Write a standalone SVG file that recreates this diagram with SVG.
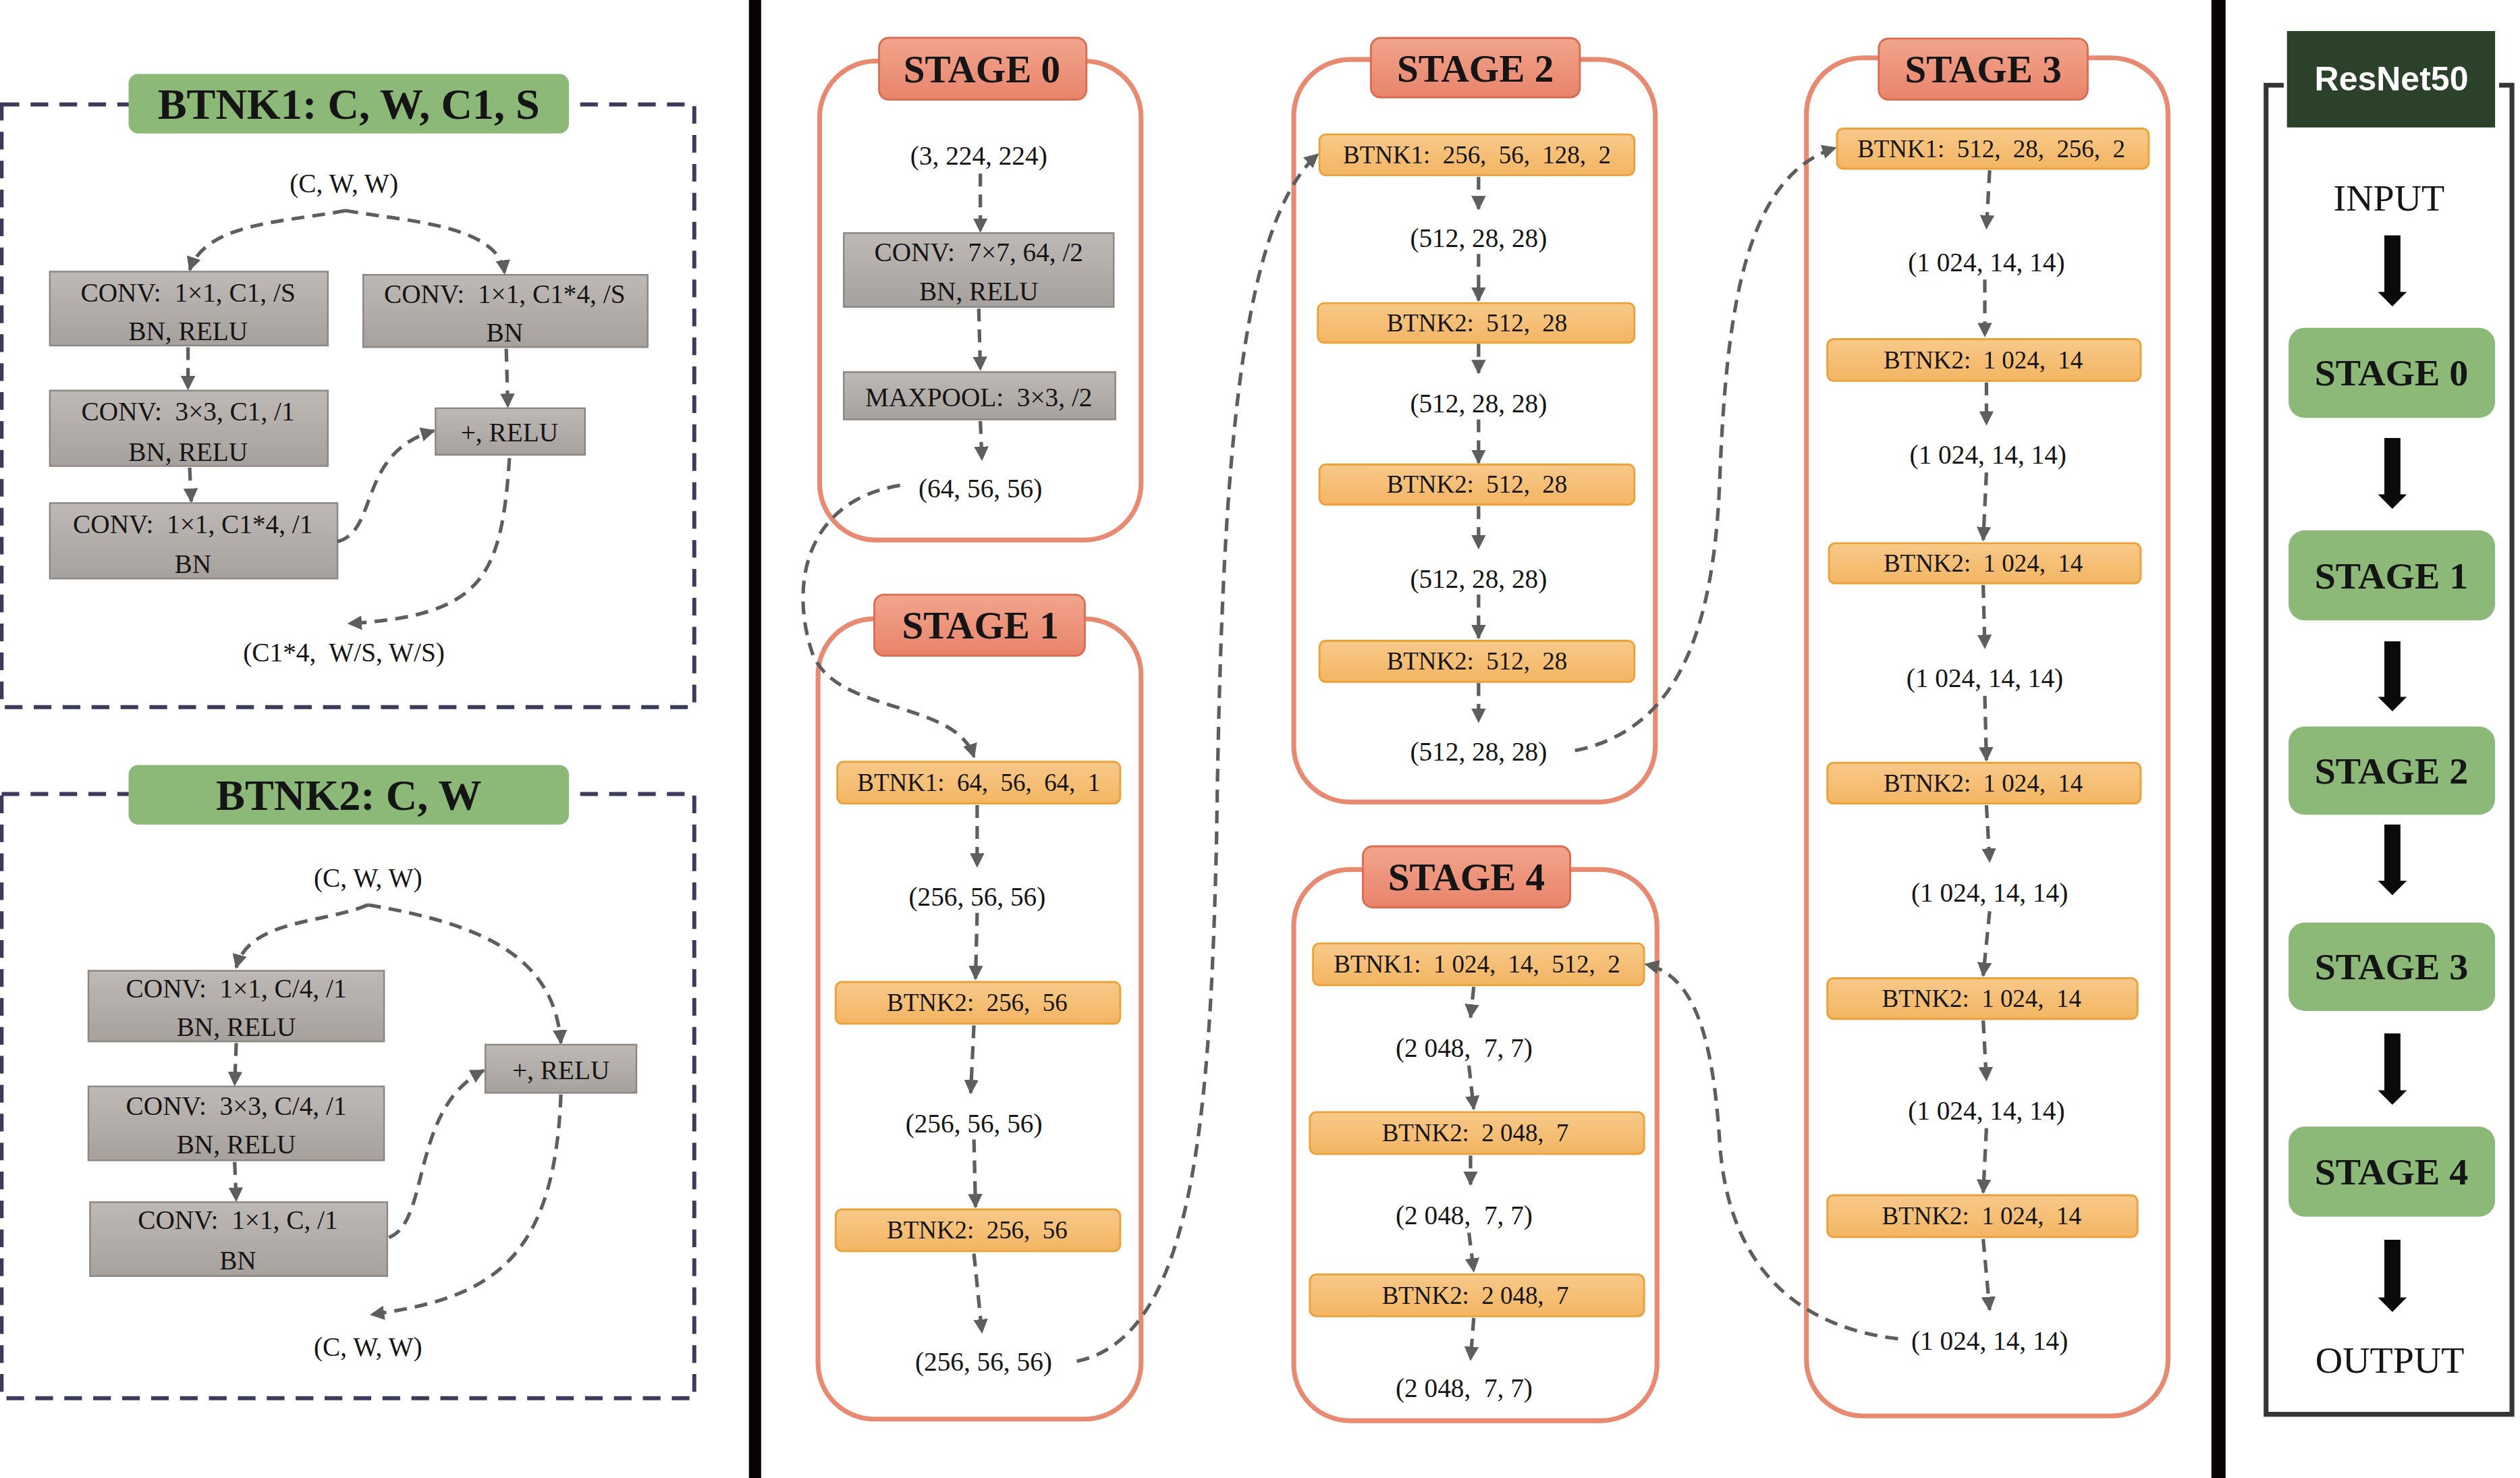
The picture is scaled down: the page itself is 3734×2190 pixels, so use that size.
<svg xmlns="http://www.w3.org/2000/svg" width="3734" height="2190" viewBox="0 0 3734 2190" xml:space="preserve">
<defs>
<linearGradient id="gGray" x1="0" y1="0" x2="0" y2="1"><stop offset="0" stop-color="#bfb9b5"/><stop offset="1" stop-color="#a7a19d"/></linearGradient>
<linearGradient id="gOrange" x1="0" y1="0" x2="0" y2="1"><stop offset="0" stop-color="#f8c98a"/><stop offset="1" stop-color="#f3b562"/></linearGradient>
<linearGradient id="gSalmon" x1="0" y1="0" x2="0" y2="1"><stop offset="0" stop-color="#f1a58c"/><stop offset="1" stop-color="#e9836b"/></linearGradient>
<marker id="ah" viewBox="0 0 10 10" refX="9" refY="5" markerWidth="9" markerHeight="9" markerUnits="userSpaceOnUse" orient="auto"><path d="M0,0 L10,5 L0,10 z" fill="#5e5e5e"/></marker>
</defs>
<style>
.t{font-family:"Liberation Serif","Times New Roman",serif;fill:#151515;text-anchor:middle;dominant-baseline:central;white-space:pre}
.b{font-weight:bold}
.f16{font-size:16.5px}
.fo{font-size:15.5px}
.f24{font-size:24px}
.f27{font-size:27px}
.f23{font-size:23.5px}
.sans{font-family:"Liberation Sans",Arial,sans-serif;font-weight:bold;font-size:21px;fill:#ffffff;text-anchor:middle;dominant-baseline:central}
.gray{fill:url(#gGray);stroke:#8c8682;stroke-width:1}
.orange{fill:url(#gOrange);stroke:#eba23a;stroke-width:1.2}
.stage{fill:none;stroke:#e88a72;stroke-width:3}
.stitle{fill:url(#gSalmon);stroke:#da6c52;stroke-width:1.2}
.frame{fill:none;stroke:#3c3b5c;stroke-width:2.5;stroke-dasharray:11 7}
.gtitle{fill:#8cb878}
.gstage{fill:#8cb878}
.conn path{fill:none;stroke:#5e5e5e;stroke-width:2.2;stroke-dasharray:8 5;marker-end:url(#ah)}
.blk{fill:#0a0a0a}
</style>
<rect x="0" y="0" width="3734" height="2190" fill="#ffffff"/>
<g transform="scale(2.38138)">

<!-- separators -->
<g id="separators">
<rect x="466" y="0" width="7.6" height="920" fill="#080404"/>
<rect x="1376" y="0" width="8.8" height="920" fill="#080404"/>
</g>

<!-- BTNK1 panel -->
<g id="btnk1-panel">
<rect class="frame" x="1" y="65" width="431" height="375"/>
<rect class="gtitle" x="80" y="46" width="274" height="37" rx="6"/>
<text class="t b f27" x="217" y="65">BTNK1: C, W, C1, S</text>
</g>
<g id="btnk1-in"><text class="t f16" x="214" y="114">(C, W, W)</text></g>
<g id="btnk1-conv1"><rect class="gray" x="31" y="169" width="173" height="46"/>
<text class="t f16" x="117" y="182">CONV:  1×1, C1, /S</text><text class="t f16" x="117" y="206">BN, RELU</text></g>
<g id="btnk1-short"><rect class="gray" x="226" y="171" width="177" height="45"/>
<text class="t f16" x="314" y="183">CONV:  1×1, C1*4, /S</text><text class="t f16" x="314" y="207">BN</text></g>
<g id="btnk1-conv2"><rect class="gray" x="31" y="243" width="173" height="47"/>
<text class="t f16" x="117" y="256">CONV:  3×3, C1, /1</text><text class="t f16" x="117" y="281">BN, RELU</text></g>
<g id="btnk1-conv3"><rect class="gray" x="31" y="313" width="179" height="47"/>
<text class="t f16" x="120" y="326">CONV:  1×1, C1*4, /1</text><text class="t f16" x="120" y="351">BN</text></g>
<g id="btnk1-add"><rect class="gray" x="271" y="254" width="93" height="29"/>
<text class="t f16" x="317" y="269">+, RELU</text></g>
<g id="btnk1-out"><text class="t f16" x="214" y="406">(C1*4,  W/S, W/S)</text></g>

<!-- BTNK2 panel -->
<g id="btnk2-panel">
<rect class="frame" x="1" y="494" width="431" height="376"/>
<rect class="gtitle" x="80" y="476" width="274" height="37" rx="6"/>
<text class="t b f27" x="217" y="495">BTNK2: C, W</text>
</g>
<g id="btnk2-in"><text class="t f16" x="229" y="546">(C, W, W)</text></g>
<g id="btnk2-conv1"><rect class="gray" x="55" y="604" width="184" height="44"/>
<text class="t f16" x="147" y="615">CONV:  1×1, C/4, /1</text><text class="t f16" x="147" y="639">BN, RELU</text></g>
<g id="btnk2-conv2"><rect class="gray" x="55" y="676" width="184" height="46"/>
<text class="t f16" x="147" y="688">CONV:  3×3, C/4, /1</text><text class="t f16" x="147" y="712">BN, RELU</text></g>
<g id="btnk2-conv3"><rect class="gray" x="56" y="748" width="185" height="46"/>
<text class="t f16" x="148" y="759">CONV:  1×1, C, /1</text><text class="t f16" x="148" y="784">BN</text></g>
<g id="btnk2-add"><rect class="gray" x="302" y="650" width="94" height="30"/>
<text class="t f16" x="349" y="666">+, RELU</text></g>
<g id="btnk2-out"><text class="t f16" x="229" y="838">(C, W, W)</text></g>

<!-- STAGE 0 -->
<g id="stage0">
<rect class="stage" x="510" y="38" width="200" height="298" rx="35"/>
<rect class="stitle" x="547" y="23.5" width="129" height="38.5" rx="6"/>
<text class="t b f24" x="611" y="43">STAGE 0</text>
</g>
<g id="s0-in"><text class="t f16" x="609" y="97">(3, 224, 224)</text></g>
<g id="s0-conv"><rect class="gray" x="525" y="145" width="168" height="46"/>
<text class="t f16" x="609" y="157">CONV:  7×7, 64, /2</text><text class="t f16" x="609" y="181">BN, RELU</text></g>
<g id="s0-pool"><rect class="gray" x="525" y="231.5" width="169" height="29.5"/>
<text class="t f16" x="609" y="247">MAXPOOL:  3×3, /2</text></g>
<g id="s0-out"><text class="t f16" x="610" y="304">(64, 56, 56)</text></g>

<!-- STAGE 1 -->
<g id="stage1">
<rect class="stage" x="509" y="385" width="201" height="498" rx="35"/>
<rect class="stitle" x="544" y="370" width="131" height="38" rx="6"/>
<text class="t b f24" x="610" y="389">STAGE 1</text>
</g>
<g id="s1-b1"><rect class="orange" x="521" y="474" width="176" height="26" rx="4"/><text class="t fo" x="609" y="487">BTNK1:  64,  56,  64,  1</text></g>
<g id="s1-o1"><text class="t f16" x="608" y="558">(256, 56, 56)</text></g>
<g id="s1-b2"><rect class="orange" x="520" y="611" width="177" height="26" rx="4"/><text class="t fo" x="608" y="624">BTNK2:  256,  56</text></g>
<g id="s1-o2"><text class="t f16" x="606" y="699">(256, 56, 56)</text></g>
<g id="s1-b3"><rect class="orange" x="520" y="752.5" width="177" height="26" rx="4"/><text class="t fo" x="608" y="765.5">BTNK2:  256,  56</text></g>
<g id="s1-o3"><text class="t f16" x="612" y="847">(256, 56, 56)</text></g>

<!-- STAGE 2 -->
<g id="stage2">
<rect class="stage" x="805" y="37" width="225" height="462" rx="35"/>
<rect class="stitle" x="853" y="23.6" width="130" height="37" rx="6"/>
<text class="t b f24" x="918" y="42.5">STAGE 2</text>
</g>
<g id="s2-b1"><rect class="orange" x="821" y="83.6" width="196" height="25.4" rx="4"/><text class="t fo" x="919" y="96.3">BTNK1:  256,  56,  128,  2</text></g>
<g id="s2-o1"><text class="t f16" x="920" y="148">(512, 28, 28)</text></g>
<g id="s2-b2"><rect class="orange" x="820" y="188.6" width="197" height="24.6" rx="4"/><text class="t fo" x="919" y="201">BTNK2:  512,  28</text></g>
<g id="s2-o2"><text class="t f16" x="920" y="251">(512, 28, 28)</text></g>
<g id="s2-b3"><rect class="orange" x="821" y="289" width="196" height="25" rx="4"/><text class="t fo" x="919" y="301.5">BTNK2:  512,  28</text></g>
<g id="s2-o3"><text class="t f16" x="920" y="360">(512, 28, 28)</text></g>
<g id="s2-b4"><rect class="orange" x="821" y="398.7" width="196" height="25.6" rx="4"/><text class="t fo" x="919" y="411.5">BTNK2:  512,  28</text></g>
<g id="s2-o4"><text class="t f16" x="920" y="467.5">(512, 28, 28)</text></g>

<!-- STAGE 3 -->
<g id="stage3">
<rect class="stage" x="1124" y="36" width="225" height="845" rx="35"/>
<rect class="stitle" x="1169" y="24" width="130" height="38" rx="6"/>
<text class="t b f24" x="1234" y="43">STAGE 3</text>
</g>
<g id="s3-b1"><rect class="orange" x="1143" y="80" width="194" height="25" rx="4"/><text class="t fo" x="1239" y="92.5">BTNK1:  512,  28,  256,  2</text></g>
<g id="s3-o1"><text class="t f16" x="1236" y="163">(1 024, 14, 14)</text></g>
<g id="s3-b2"><rect class="orange" x="1137" y="211" width="195" height="26" rx="4"/><text class="t fo" x="1234" y="224">BTNK2:  1 024,  14</text></g>
<g id="s3-o2"><text class="t f16" x="1237" y="283">(1 024, 14, 14)</text></g>
<g id="s3-b3"><rect class="orange" x="1138" y="338" width="194" height="25" rx="4"/><text class="t fo" x="1234" y="350.5">BTNK2:  1 024,  14</text></g>
<g id="s3-o3"><text class="t f16" x="1235" y="422">(1 024, 14, 14)</text></g>
<g id="s3-b4"><rect class="orange" x="1137" y="474.6" width="195" height="25.4" rx="4"/><text class="t fo" x="1234" y="487.3">BTNK2:  1 024,  14</text></g>
<g id="s3-o4"><text class="t f16" x="1238" y="555.5">(1 024, 14, 14)</text></g>
<g id="s3-b5"><rect class="orange" x="1137" y="608.7" width="193" height="25.3" rx="4"/><text class="t fo" x="1233" y="621.4">BTNK2:  1 024,  14</text></g>
<g id="s3-o5"><text class="t f16" x="1236" y="691">(1 024, 14, 14)</text></g>
<g id="s3-b6"><rect class="orange" x="1137" y="743.7" width="193" height="26" rx="4"/><text class="t fo" x="1233" y="756.7">BTNK2:  1 024,  14</text></g>
<g id="s3-o6"><text class="t f16" x="1238" y="834">(1 024, 14, 14)</text></g>

<!-- STAGE 4 -->
<g id="stage4">
<rect class="stage" x="805" y="541" width="226" height="343" rx="35"/>
<rect class="stitle" x="848" y="526.6" width="129" height="38" rx="6"/>
<text class="t b f24" x="912.5" y="545.5">STAGE 4</text>
</g>
<g id="s4-b1"><rect class="orange" x="817" y="587" width="206" height="26" rx="4"/><text class="t fo" x="919" y="600">BTNK1:  1 024,  14,  512,  2</text></g>
<g id="s4-o1"><text class="t f16" x="911" y="652">(2 048,  7, 7)</text></g>
<g id="s4-b2"><rect class="orange" x="815" y="692" width="208" height="26" rx="4"/><text class="t fo" x="918" y="705">BTNK2:  2 048,  7</text></g>
<g id="s4-o2"><text class="t f16" x="911" y="756">(2 048,  7, 7)</text></g>
<g id="s4-b3"><rect class="orange" x="815" y="793" width="208" height="26" rx="4"/><text class="t fo" x="918" y="806">BTNK2:  2 048,  7</text></g>
<g id="s4-o3"><text class="t f16" x="911" y="863.5">(2 048,  7, 7)</text></g>

<!-- ResNet50 overview -->
<g id="resnet50">
<path d="M1421,53 H1410 V880 H1563 V53 H1555" fill="none" stroke="#353535" stroke-width="3"/>
<rect x="1423" y="19.3" width="129.5" height="60" fill="#2c4129"/>
<text class="sans" x="1488" y="49">ResNet50</text>
</g>
<g id="r-input"><text class="t f23" x="1486.5" y="123">INPUT</text></g>
<g id="r-stage0"><rect class="gstage" x="1424" y="204" width="128.5" height="56" rx="10"/><text class="t b f23" x="1488" y="232">STAGE 0</text></g>
<g id="r-stage1"><rect class="gstage" x="1424" y="330" width="128.5" height="56" rx="10"/><text class="t b f23" x="1488" y="358">STAGE 1</text></g>
<g id="r-stage2"><rect class="gstage" x="1424" y="452" width="128.5" height="55" rx="10"/><text class="t b f23" x="1488" y="479.5">STAGE 2</text></g>
<g id="r-stage3"><rect class="gstage" x="1424" y="574" width="128.5" height="55" rx="10"/><text class="t b f23" x="1488" y="601.5">STAGE 3</text></g>
<g id="r-stage4"><rect class="gstage" x="1424" y="701" width="128.5" height="56" rx="10"/><text class="t b f23" x="1488" y="729">STAGE 4</text></g>
<g id="r-output"><text class="t f23" x="1487" y="846">OUTPUT</text></g>

<!-- connectors -->
<g id="connectors" class="conn">
<!-- BTNK1 -->
<path d="M215,131 C180,138 128,138 118,168"/>
<path d="M215,131 C255,138 310,140 314,170"/>
<path d="M117,216 L117,242"/>
<path d="M118,291 L119,312"/>
<path d="M315,217 L316,253"/>
<path d="M210,337 C236,330 222,282 270,268"/>
<path d="M317,285 C312,360 300,383 217,388"/>
<!-- BTNK2 -->
<path d="M229,563 C200,575 155,572 147,602"/>
<path d="M229,563 C300,575 345,595 349,649"/>
<path d="M147,649 L146,675"/>
<path d="M146,723 L147,747"/>
<path d="M242,770 C268,760 255,690 301,666"/>
<path d="M349,681 C345,790 300,808 231,818"/>
<!-- stage 0 -->
<path d="M610,108 L610,144"/>
<path d="M609,192 L610,230"/>
<path d="M610,262 L611,286"/>
<!-- stage 1 -->
<path d="M608,501 L608,539"/>
<path d="M608,568 L607,609"/>
<path d="M606,638 L604,680"/>
<path d="M606,709 L607,751"/>
<path d="M606,780 L611,829"/>
<!-- stage 2 -->
<path d="M920,110 L920,130"/>
<path d="M920,158 L920,187"/>
<path d="M920,214 L920,232"/>
<path d="M920,261 L920,288"/>
<path d="M920,315 L920,341"/>
<path d="M920,370 L920,397"/>
<path d="M920,425 L920,449"/>
<!-- stage 3 -->
<path d="M1238,106 L1236,142"/>
<path d="M1235,174 L1235,209"/>
<path d="M1236,238 L1236,264"/>
<path d="M1236,294 L1234,336"/>
<path d="M1234,364 L1235,403"/>
<path d="M1235,433 L1236,473"/>
<path d="M1236,501 L1238,536"/>
<path d="M1238,567 L1234,607"/>
<path d="M1234,635 L1236,672"/>
<path d="M1236,702 L1234,742"/>
<path d="M1234,771 L1238,815"/>
<!-- stage 4 -->
<path d="M917,614 L915,633"/>
<path d="M914,663 L917,690"/>
<path d="M915,719 L915,737"/>
<path d="M914,767 L917,791"/>
<path d="M917,820 L915,846"/>
<!-- between stages -->
<path d="M560,302 C500,312 492,365 505,405 C518,445 595,435 606,471"/>
<path d="M670,847 C742,832 753,700 757,520 C760,300 770,140 820,96"/>
<path d="M980,467 C1040,455 1066,400 1070,300 C1074,195 1085,110 1142,92"/>
<path d="M1181,833 C1120,826 1075,790 1070,710 C1066,650 1056,607 1024,600"/>
</g>

<!-- overview block arrows -->
<g id="overview-arrows" class="blk">
<path d="M1483.6,146.5 H1493.6 V181.6 H1497.6 L1488.6,190.6 L1479.6,181.6 H1483.6 Z"/>
<path d="M1483.6,272.5 H1493.6 V307.6 H1497.6 L1488.6,316.6 L1479.6,307.6 H1483.6 Z"/>
<path d="M1483.6,399 H1493.6 V433.6 H1497.6 L1488.6,442.6 L1479.6,433.6 H1483.6 Z"/>
<path d="M1483.6,513 H1493.6 V548 H1497.6 L1488.6,557 L1479.6,548 H1483.6 Z"/>
<path d="M1483.6,643 H1493.6 V678.4 H1497.6 L1488.6,687.4 L1479.6,678.4 H1483.6 Z"/>
<path d="M1483.6,771.4 H1493.6 V807.3 H1497.6 L1488.6,816.3 L1479.6,807.3 H1483.6 Z"/>
</g>

</g>
</svg>
